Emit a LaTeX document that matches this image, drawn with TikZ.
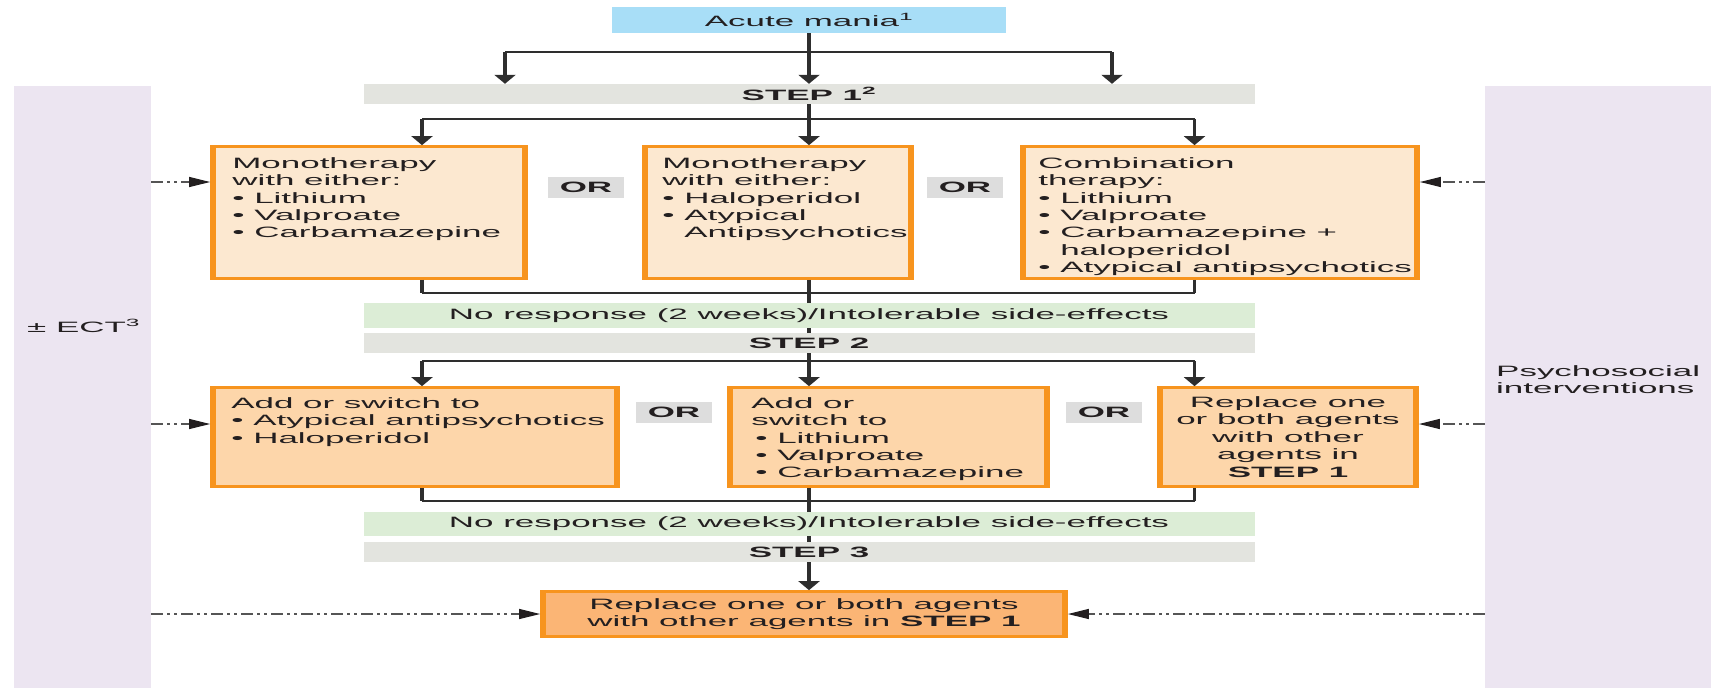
\documentclass[tikz,border=0pt]{standalone}
\usepackage{fontspec}
\setmainfont{Liberation Sans}[FakeStretch=2.33]
\usetikzlibrary{arrows.meta}

\definecolor{ink}{HTML}{231F20}
\definecolor{maniablue}{HTML}{A8DEF7}
\definecolor{stepgray}{HTML}{E3E4DF}
\definecolor{respgreen}{HTML}{DCEDD6}
\definecolor{orgray}{HTML}{DDDDDD}
\definecolor{boxlight}{HTML}{FCE8D0}
\definecolor{boxmid}{HTML}{FDD6AA}
\definecolor{boxdark}{HTML}{FBB575}
\definecolor{boxedge}{HTML}{F7941E}
\definecolor{panelviolet}{HTML}{ECE5F1}
\definecolor{wire}{HTML}{2E2E2E}
\definecolor{sidewire}{HTML}{555555}

\tikzset{
  panel/.style={fill=panelviolet, inner sep=0},
  bar/.style={minimum width=891, inner sep=0, font=\fontsize{15}{17.4}\selectfont\bfseries},
  stepbar/.style={bar, fill=stepgray, minimum height=20},
  respbar/.style={bar, fill=respgreen, font=\fontsize{15}{17.4}\selectfont},
  orbox/.style={fill=orgray, minimum width=76, minimum height=21, inner sep=0,
    font=\fontsize{15}{17.4}\selectfont\bfseries},
  therapy/.style={draw=boxedge, line width=2.7pt, inner sep=0},
  sideedge/.style={draw=boxedge, line width=5.5pt},
  txt/.style={anchor=north west, inner sep=0, align=left},
  hwire/.style={draw=wire, line width=1.6pt},
  vwire/.style={draw=wire, line width=3.2pt},
  vflow/.style={vwire, -{Triangle[length=9pt,width=21pt]}},
  side/.style={draw=sidewire, line width=1.3pt,
    dash pattern=on 12pt off 4pt on 3pt off 4pt on 3pt off 4pt,
    -{Triangle[length=21pt,width=10pt,color=ink]}},
}

\newcommand{\blt}{•\ }
\newcommand{\bltgap}{\phantom{•\ }}

\begin{document}
\begin{tikzpicture}[x=1pt, y=-1pt, font=\fontsize{15}{17.4}\selectfont, text=ink]
\useasboundingbox (0,0) rectangle (1711,688);

% side panels
\node[panel, minimum width=137, minimum height=602] (lpanel) at (82.5,387) {};
\node[panel, minimum width=226, minimum height=602] (rpanel) at (1598,387) {};
\node[anchor=west, inner sep=0] (ect) at (27,326) {± ECT\textsuperscript{3}};
\node[txt] (psy) at (1496,365) {Psychosocial\\interventions};

% start
\node[fill=maniablue, minimum width=394, minimum height=26, inner sep=0] (mania) at (809,20)
  {Acute mania\textsuperscript{1}};

% step bars and response bars
\node[stepbar] (step1) at (809,94) {STEP 1\textsuperscript{2}};
\node[respbar, minimum height=25] (green1) at (809,315.5) {No response (2 weeks)/Intolerable side-effects};
\node[stepbar] (step2) at (809,343) {STEP 2};
\node[respbar, minimum height=24] (green2) at (809,524) {No response (2 weeks)/Intolerable side-effects};
\node[stepbar] (step3) at (809,552) {STEP 3};

% step 1 options
\node[therapy, fill=boxlight, minimum width=315, minimum height=132] (box1) at (369,212.5) {};
\node[therapy, fill=boxlight, minimum width=269, minimum height=132] (box2) at (778,212.5) {};
\node[therapy, fill=boxlight, minimum width=397, minimum height=132] (box3) at (1220,212.5) {};
\node[txt] (box1t) at ([shift={(22,12)}]box1.north west)
  {Monotherapy\\with either:\\\blt Lithium\\\blt Valproate\\\blt Carbamazepine};
\node[txt] (box2t) at ([shift={(20,12)}]box2.north west)
  {Monotherapy\\with either:\\\blt Haloperidol\\\blt Atypical\\\bltgap Antipsychotics};
\node[txt] (box3t) at ([shift={(18,12)}]box3.north west)
  {Combination\\therapy:\\\blt Lithium\\\blt Valproate\\\blt Carbamazepine +\\\bltgap haloperidol\\\blt Atypical antipsychotics};
\node[orbox] (or1) at (586,187.5) {OR};
\node[orbox] (or2) at (965,187.5) {OR};

% step 2 options
\node[therapy, fill=boxmid, minimum width=407, minimum height=99] (box4) at (415,437) {};
\node[therapy, fill=boxmid, minimum width=320, minimum height=99] (box5) at (888.5,437) {};
\node[therapy, fill=boxmid, minimum width=259, minimum height=99] (box6) at (1288,437) {};
\node[txt] (box4t) at ([shift={(21,11)}]box4.north west)
  {Add or switch to\\\blt Atypical antipsychotics\\\blt Haloperidol};
\node[txt] (box5t) at ([shift={(24,11)}]box5.north west)
  {Add or\\switch to\\\hspace{4pt}\blt Lithium\\\hspace{4pt}\blt Valproate\\\hspace{4pt}\blt Carbamazepine};
\node[inner sep=0, align=center] (box6t) at (box6.center)
  {Replace one\\or both agents\\with other\\agents in\\\textbf{STEP 1}};
\node[orbox] (or3) at (674,412.5) {OR};
\node[orbox] (or4) at (1104,412.5) {OR};

% step 3
\node[therapy, fill=boxdark, minimum width=525, minimum height=45, align=center] (final) at (804,614)
  {Replace one or both agents\\with other agents in \textbf{STEP 1}};

% heavier left and right edges of the option boxes
\foreach \b in {box1,box2,box3,box4,box5,box6,final}{
  \draw[sideedge] ([xshift=2.75pt]\b.north west) -- ([xshift=2.75pt]\b.south west);
  \draw[sideedge] ([xshift=-2.75pt]\b.north east) -- ([xshift=-2.75pt]\b.south east);
}

% branch points
\coordinate (j0l) at (505,52);
\coordinate (j0r) at (1112,52);
\coordinate (j1l) at (422,119);
\coordinate (j1r) at (1194.5,119);
\coordinate (m1l) at (422,293);
\coordinate (m1r) at (1194.5,293);
\coordinate (j2l) at (422,361);
\coordinate (j2r) at (1194.5,361);
\coordinate (m2l) at (422,501);
\coordinate (m2r) at (1194.5,501);
\coordinate (a1) at (0,182);
\coordinate (a2) at (0,424);
\coordinate (a3) at (0,614);

% acute mania to step 1
\draw[hwire] (j0l) -- (j0r);
\draw[vflow] (mania.south) -- (mania.south |- step1.north);
\draw[vflow] (j0l) -- (j0l |- step1.north);
\draw[vflow] (j0r) -- (j0r |- step1.north);

% step 1 to its options
\draw[hwire] (j1l) -- (j1r);
\draw[vflow] (step1.south) -- (step1.south |- box2.north);
\draw[vflow] (j1l) -- (j1l |- box1.north);
\draw[vflow] (j1r) -- (j1r |- box3.north);

% options back to step 2
\draw[vwire] (m1l |- box1.south) -- (m1l);
\draw[vwire] (m1r |- box3.south) -- (m1r);
\draw[hwire] (m1l) -- (m1r);
\draw[vwire] (step1.south |- box2.south) -- (step1.south |- green1.north);
\draw[vwire] (green1.south) -- (step2.north);

% step 2 to its options
\draw[hwire] (j2l) -- (j2r);
\draw[vflow] (step2.south) -- (step2.south |- box5.north);
\draw[vflow] (j2l) -- (j2l |- box4.north);
\draw[vflow] (j2r) -- (j2r |- box6.north);

% options back to step 3
\draw[vwire] (m2l |- box4.south) -- (m2l);
\draw[vwire] (m2r |- box6.south) -- (m2r);
\draw[hwire] (m2l) -- (m2r);
\draw[vwire] (step2.south |- box5.south) -- (step2.south |- green2.north);
\draw[vwire] (green2.south) -- (step3.north);
\draw[vflow] (step3.south) -- (step3.south |- final.north);

% adjunct treatments from the side panels
\draw[side] (lpanel.east |- a1) -- (box1.west |- a1);
\draw[side] (rpanel.west |- a1) -- (box3.east |- a1);
\draw[side] (lpanel.east |- a2) -- (box4.west |- a2);
\draw[side] (rpanel.west |- a2) -- (box6.east |- a2);
\draw[side] (lpanel.east |- a3) -- (final.west |- a3);
\draw[side] (rpanel.west |- a3) -- (final.east |- a3);
\end{tikzpicture}
\end{document}
